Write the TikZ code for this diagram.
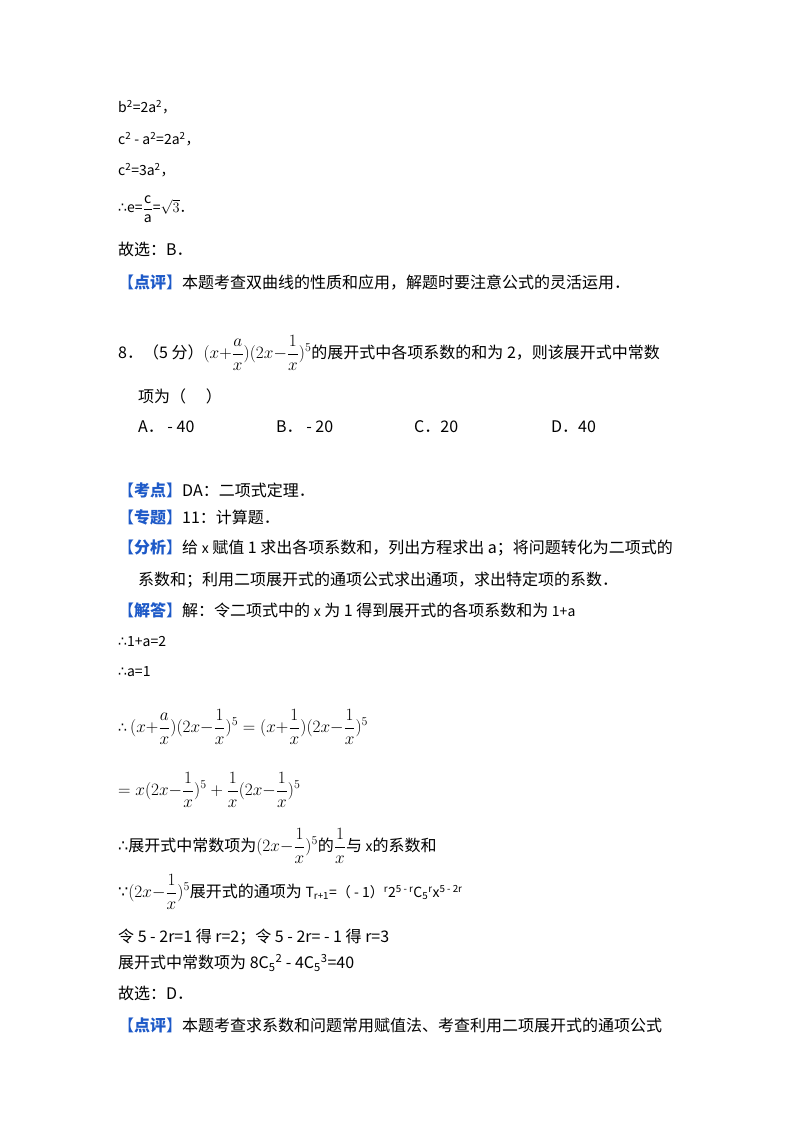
\documentclass[tikz,border=0pt]{standalone}
\usepackage{amsmath}
\usepackage{fontspec}
\setmainfont{Noto Sans CJK SC}
\newfontfamily\symf{DejaVu Sans}
\begin{document}
\begin{tikzpicture}[x=1pt,y=-1pt,
 t/.style={anchor=west,inner sep=0pt,font=\fontsize{16}{18}\selectfont},
 s/.style={anchor=west,inner sep=0pt,font=\fontsize{14}{16}\selectfont}]
\definecolor{bl}{RGB}{30,90,200}
\newcommand{\tf}{{\symf ∴}}
\newcommand{\bc}{{\symf ∵}}
\newcommand{\sm}{\fontsize{14}{16}\selectfont}
\newcommand{\mm}{\fontsize{17.28}{20}\selectfont}
\newcommand{\hd}[1]{{\color{bl}【\textbf{#1}】}}
\newcommand{\fr}[2]{$\dfrac{\mathrm{#1}}{\mathrm{#2}}$}
\useasboundingbox (0,0) rectangle (800,1132);
\fill[white] (0,0) rectangle (800,1132);
\node[s] (l1) at (118,107) {b\textsuperscript{2}=2a\textsuperscript{2}，};
\node[s] (l2) at (118,139) {c\textsuperscript{2} - a\textsuperscript{2}=2a\textsuperscript{2}，};
\node[s] (l3) at (118,170) {c\textsuperscript{2}=3a\textsuperscript{2}，};
\node[s] (l4) at (118,209) {\tf e=\fr{c}{a}=$\sqrt{3}$．};
\node[t] (l5) at (118,249) {故选：B．};
\node[t] (l6) at (118,283) {\hd{点评}本题考查双曲线的性质和应用，解题时要注意公式的灵活运用．};
\node[t] (q1) at (118,353) {8．（5 分）{\mm$\displaystyle(x{+}\frac{a}{x})(2x{-}\frac{1}{x})^5$}的展开式中各项系数的和为 2，则该展开式中常数};
\node[t] (q2) at (138,396) {项为（\quad\ ）};
\node[t] (oa) at (138,427) {A． - 40};
\node[t] (ob) at (276,427) {B． - 20};
\node[t] (oc) at (414,427) {C．20};
\node[t] (od) at (551,427) {D．40};
\node[t] (k1) at (118,490) {\hd{考点}DA：二项式定理．};
\node[t] (k2) at (118,517) {\hd{专题}11：计算题．};
\node[t] (k3) at (118,548) {\hd{分析}给 {\sm x} 赋值 1 求出各项系数和，列出方程求出 a；将问题转化为二项式的};
\node[t] (k4) at (138,580) {系数和；利用二项展开式的通项公式求出通项，求出特定项的系数．};
\node[t] (k5) at (118,610) {\hd{解答}解：令二项式中的 {\sm x} 为 1 得到展开式的各项系数和为 {\sm 1+a}};
\node[s] (k6) at (118,642) {\tf 1+a=2};
\node[s] (k7) at (118,672) {\tf a=1};
\node[s] (m1) at (118,727) {\tf\ {\mm$\displaystyle(x{+}\frac{a}{x})(2x{-}\frac{1}{x})^5=(x{+}\frac{1}{x})(2x{-}\frac{1}{x})^5$}};
\node[s] (m2) at (118,790) {{\mm$\displaystyle=x(2x{-}\frac{1}{x})^5+\frac{1}{x}(2x{-}\frac{1}{x})^5$}};
\node[t] (m3) at (118,846) {\tf 展开式中常数项为{\mm$\displaystyle(2x{-}\frac{1}{x})^5$}的{\mm$\displaystyle\frac{1}{x}$}与 {\sm x}的系数和};
\node[t] (m4) at (118,892) {\bc {\mm$\displaystyle(2x{-}\frac{1}{x})^5$}展开式的通项为 {\sm T\textsubscript{r+1}=（ - 1）\textsuperscript{r}2\textsuperscript{5 - r}C\textsubscript{5}\textsuperscript{r}x\textsuperscript{5 - 2r}}};
\node[t] (m5) at (118,937) {令 5 - 2r=1 得 r=2；令 5 - 2r= - 1 得 r=3};
\node[t] (m6) at (118,963) {展开式中常数项为 8C\textsubscript{5}\textsuperscript{2} - 4C\textsubscript{5}\textsuperscript{3}=40};
\node[t] (m7) at (118,993) {故选：D．};
\node[t] (m8) at (118,1025) {\hd{点评}本题考查求系数和问题常用赋值法、考查利用二项展开式的通项公式};
\end{tikzpicture}
\end{document}
